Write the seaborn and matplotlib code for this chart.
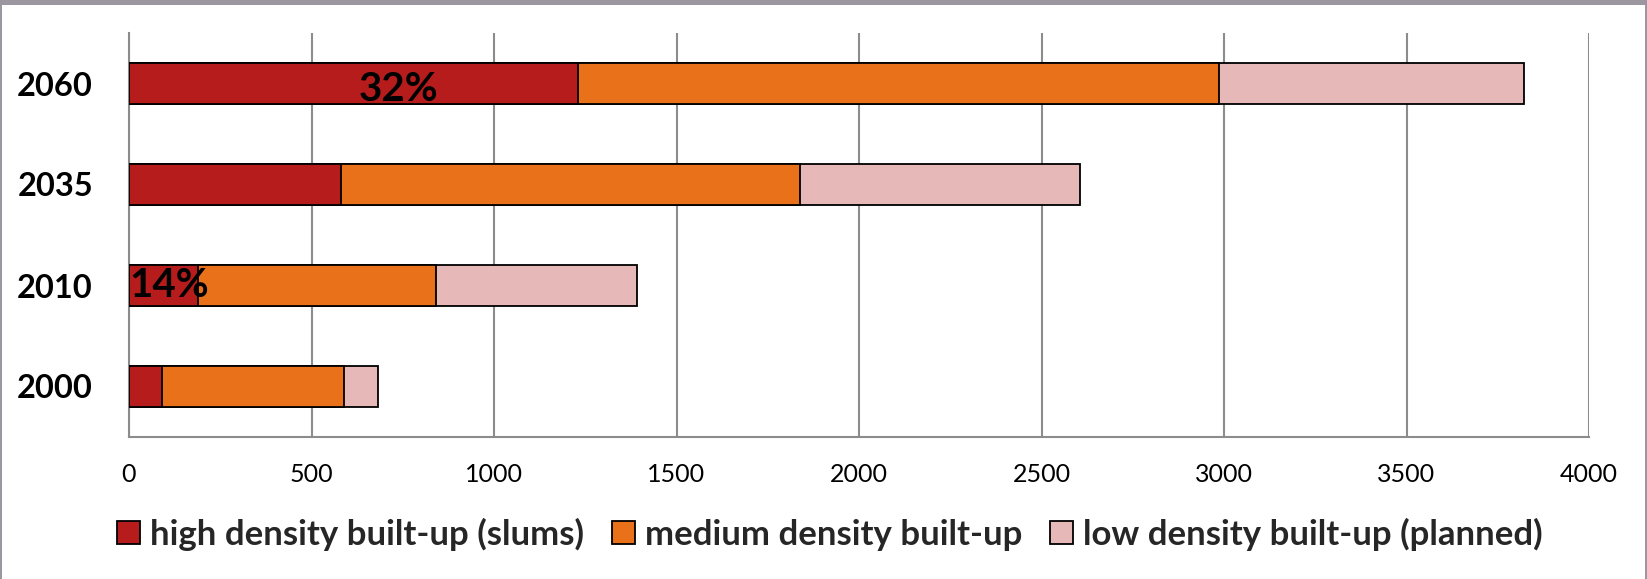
import matplotlib
matplotlib.use("Agg")
import matplotlib.pyplot as plt
from matplotlib.patches import Patch, Rectangle
import seaborn as sns
import pandas as pd

# Built-up area by density class (stacked horizontal bars)
years = ["2060", "2035", "2010", "2000"]
high_density = [1231, 580, 190, 90]
medium_density = [1754, 1258, 650, 498]
low_density = [838, 767, 553, 94]
series_names = [
    "high density built-up (slums)",
    "medium density built-up",
    "low density built-up (planned)",
]
x_ticks = [0, 500, 1000, 1500, 2000, 2500, 3000, 3500, 4000]
share_label_years = ["2060", "2010"]

colors = ["#B71C1C", "#E8711A", "#E6B8B7"]

df = pd.DataFrame({
    "year": years,
    "high": high_density,
    "medium": medium_density,
    "low": low_density,
})
df["cum_medium"] = df["high"] + df["medium"]
df["total"] = df["cum_medium"] + df["low"]

sns.set_theme(style="white")
plt.rcParams["font.family"] = ["Lato", "DejaVu Sans"]

fig = plt.figure(figsize=(16.47, 5.79), dpi=100)
fig.patch.set_facecolor("#9c96a0")
fig.patches.append(Rectangle((2 / 1647, 0), 1643 / 1647, 574 / 579,
                             transform=fig.transFigure, facecolor="white",
                             edgecolor="none", zorder=-5))

ax = fig.add_axes([129 / 1647, 1 - 437 / 579, 1460 / 1647, 404 / 579])
ax.set_facecolor("white")

bar_kw = dict(y="year", data=df, order=years, orient="h", width=0.415,
              edgecolor="black", linewidth=1.3, ax=ax, zorder=3)
sns.barplot(x="total", color=colors[2], **bar_kw)
sns.barplot(x="cum_medium", color=colors[1], **bar_kw)
sns.barplot(x="high", color=colors[0], **bar_kw)

# seaborn desaturates single colors; restore the exact fills
for container, col in zip(ax.containers, [colors[2], colors[1], colors[0]]):
    for bar in container:
        bar.set_facecolor(col)

ax.set_xlim(0, 4000)
ax.set_ylim(3.5, -0.5)
ax.set_xticks(x_ticks)
ax.set_xticklabels([str(t) for t in x_ticks], fontsize=18)
ax.set_yticks(range(len(years)))
ax.set_yticklabels(years, fontsize=23.5, fontweight="bold")
ax.set_xlabel("")
ax.set_ylabel("")

ax.set_axisbelow(True)
ax.grid(axis="x", color="#8c8c8c", linewidth=1.5)
ax.grid(axis="y", visible=False)
for side in ["top", "right"]:
    ax.spines[side].set_visible(False)
for side in ["left", "bottom"]:
    ax.spines[side].set_color("#8c8c8c")
    ax.spines[side].set_linewidth(1.5)

ax.tick_params(axis="x", which="major", direction="out", length=6,
               width=1.5, color="#8c8c8c", pad=13, labelcolor="black")
# category ticks sit between the bars
ax.tick_params(axis="y", which="major", length=0, pad=26, labelcolor="black")
ax.set_yticks([i + 0.5 for i in range(-1, len(years))], minor=True)
ax.tick_params(axis="y", which="minor", direction="out", length=8,
               width=1.5, color="#8c8c8c")
ax.tick_params(axis="x", which="minor", length=0)

# Share of high-density area in total
label_x = {"2060": 630, "2010": 0}
label_dy = {"2060": 0.06, "2010": 0.0}
for yr in share_label_years:
    i = years.index(yr)
    pct = round(100 * df.loc[i, "high"] / df.loc[i, "total"])
    ax.text(label_x[yr], i + label_dy[yr], f"{pct}%", ha="left",
            va="center", fontsize=29, fontweight="bold", color="black",
            zorder=5)

handles = [Patch(facecolor=c, edgecolor="black", linewidth=1.3) for c in colors]
fig.legend(handles, series_names, loc="center", ncol=3,
           bbox_to_anchor=(0.504, 1 - 534 / 579), frameon=False,
           prop={"family": ["Lato", "DejaVu Sans"], "weight": "bold", "size": 25},
           handlelength=0.65, handleheight=0.65, handletextpad=0.3,
           columnspacing=0.8)

fig.savefig("out.png", dpi=100, facecolor=fig.get_facecolor())
